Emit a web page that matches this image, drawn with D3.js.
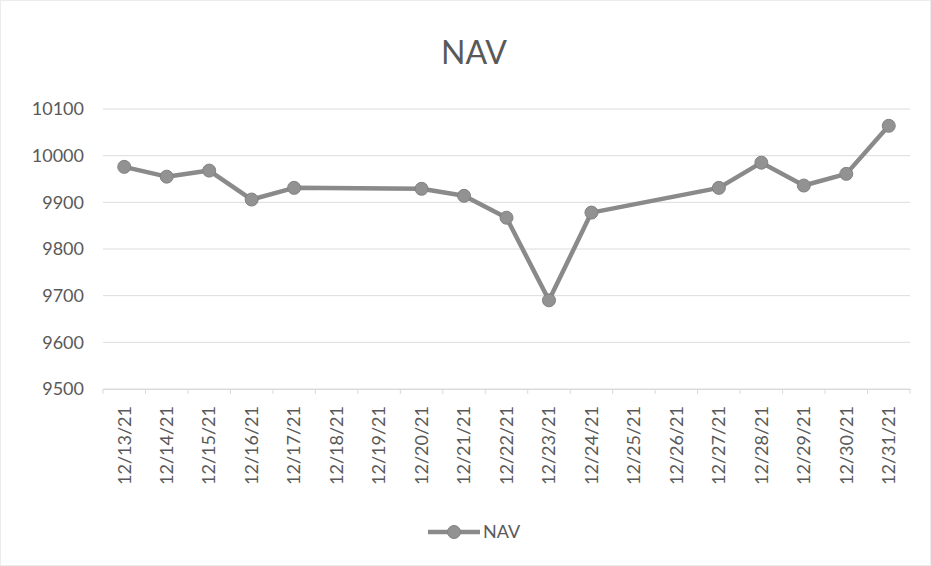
<!DOCTYPE html>
<html><head><meta charset="utf-8">
<script src="https://cdn.jsdelivr.net/npm/d3@7"></script>
<style>body{margin:0;background:#fff;font-family:Lato,"Open Sans",sans-serif;}</style>
</head><body><svg id="c" width="931" height="566"></svg>
<script>
const dates = ["12/13/21","12/14/21","12/15/21","12/16/21","12/17/21","12/18/21","12/19/21","12/20/21","12/21/21","12/22/21","12/23/21","12/24/21","12/25/21","12/26/21","12/27/21","12/28/21","12/29/21","12/30/21","12/31/21"];
const navDates = ["12/13/21","12/14/21","12/15/21","12/16/21","12/17/21","12/20/21","12/21/21","12/22/21","12/23/21","12/24/21","12/27/21","12/28/21","12/29/21","12/30/21","12/31/21"];
const navValues = [9976,9955,9968,9906,9931,9929,9914,9867,9690,9878,9931,9985,9936,9961,10064];
const yTicks = [9500,9600,9700,9800,9900,10000,10100];

const svg = d3.select("#c");
const m = {l:103, r:910, t:109, b:389};
const x = d3.scaleBand().domain(dates).range([m.l, m.r]).padding(0);
const y = d3.scaleLinear().domain([9500,10100]).range([m.b, m.t]);
const txt = "#595959";
const lineCol = "#8a8a8a";

svg.append("rect").attr("x",0.5).attr("y",0.5).attr("width",930).attr("height",565).attr("fill","#fff").attr("stroke","#ececec");

// gridlines
svg.append("g").selectAll("line").data(yTicks).join("line")
  .attr("x1",m.l).attr("x2",m.r).attr("y1",d=>y(d)).attr("y2",d=>y(d))
  .attr("stroke","#dcdcdc").attr("stroke-width",1);

// y labels
svg.append("g").selectAll("text").data(yTicks).join("text")
  .attr("x",84).attr("y",d=>y(d)).attr("dy","0.35em").attr("text-anchor","end")
  .attr("fill",txt).attr("font-size",18).text(d=>d);

// x axis
const xa = svg.append("g").attr("transform",`translate(0,${m.b})`)
  .call(d3.axisBottom(x).tickSize(0).tickPadding(0));
xa.select(".domain").attr("stroke","#d9d9d9");
xa.selectAll(".tick text").attr("transform","rotate(-90)").attr("text-anchor","end")
  .attr("x",-17).attr("y",0).attr("dy","0.35em").attr("fill",txt).attr("font-size",18)
  .attr("font-family","Lato,'Open Sans',sans-serif");
svg.append("g").selectAll("line").data(dates.concat(["end"])).join("line")
  .attr("x1",(d,i)=>m.l + i*x.bandwidth()).attr("x2",(d,i)=>m.l + i*x.bandwidth())
  .attr("y1",m.b).attr("y2",m.b+5).attr("stroke","#d9d9d9");

const pts = navDates.map((d,i)=>({d, v:navValues[i]}));
const cx = d => x(d) + x.bandwidth()/2;
svg.append("path").datum(pts)
  .attr("d", d3.line().x(p=>cx(p.d)).y(p=>y(p.v)))
  .attr("fill","none").attr("stroke",lineCol).attr("stroke-width",4.5).attr("stroke-linejoin","round");
svg.append("g").selectAll("circle").data(pts).join("circle")
  .attr("cx",p=>cx(p.d)).attr("cy",p=>y(p.v)).attr("r",6.5)
  .attr("fill","#929292").attr("stroke","#828282").attr("stroke-width",1);

// title
svg.append("text").attr("x",474).attr("y",64).attr("text-anchor","middle")
  .attr("fill",txt).attr("font-size",32).text("NAV");

// legend
const lg = svg.append("g").attr("transform","translate(428,532)");
lg.append("line").attr("x1",0).attr("x2",52).attr("y1",0).attr("y2",0).attr("stroke",lineCol).attr("stroke-width",4.5);
lg.append("circle").attr("cx",26).attr("cy",0).attr("r",6.5).attr("fill","#929292").attr("stroke","#828282");
lg.append("text").attr("x",55).attr("y",0).attr("dy","0.35em").attr("fill",txt).attr("font-size",18).text("NAV");
</script></body></html>
